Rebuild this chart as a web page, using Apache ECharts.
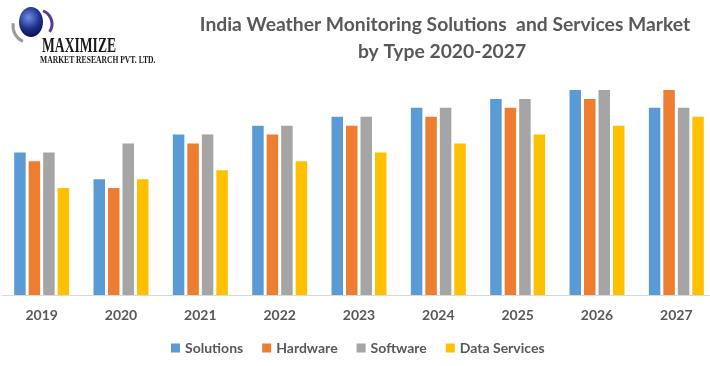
<!DOCTYPE html>
<html>
<head>
<meta charset="utf-8">
<script src="https://cdn.jsdelivr.net/npm/echarts@6/dist/echarts.min.js"></script>
<style>
html,body{margin:0;padding:0;background:#fff;overflow:hidden;width:710px;height:366px;}
#chart{width:720px;height:366px;}
</style>
</head>
<body>
<div id="chart"></div>
<script>
const categories = ['2019','2020','2021','2022','2023','2024','2025','2026','2027'];
const solutions    = [16, 13, 18, 19, 20, 21, 22, 23, 21];
const hardware     = [15, 12, 17, 18, 19, 20, 21, 22, 23];
const software     = [16, 17, 18, 19, 20, 21, 22, 23, 21];
const dataServices = [12, 13, 14, 15, 16, 17, 18, 19, 20];
const seriesNames  = ['Solutions', 'Hardware', 'Software', 'Data Services'];
const titleLines   = ['India Weather Monitoring Solutions  and Services Market', 'by Type 2020-2027'];

const colors = ['#5B9BD5', '#ED7D31', '#A5A5A5', '#FFC000'];
const values = [solutions, hardware, software, dataServices];

const chart = echarts.init(document.getElementById('chart'), null, {renderer: 'canvas'});
chart.setOption({
  animation: false,
  backgroundColor: '#ffffff',
  color: colors,
  grid: {left: 2, width: 714, top: 90, bottom: 71, containLabel: false},
  legend: {
    data: seriesNames,
    top: 336,
    left: 166,
    icon: 'rect',
    itemWidth: 9,
    itemHeight: 9,
    itemGap: 19,
    textStyle: {fontFamily: 'Lato', fontWeight: 'bold', fontSize: 14, color: '#595959'}
  },
  xAxis: {
    type: 'category',
    data: categories,
    axisLine: {lineStyle: {color: '#D9D9D9', width: 1}},
    axisTick: {show: false},
    axisLabel: {margin: 13, fontFamily: 'Lato', fontWeight: 'bold', fontSize: 14, color: '#595959'}
  },
  yAxis: {
    type: 'value', min: 0, max: 23,
    show: false,
    splitLine: {show: false}
  },
  series: seriesNames.map((n, i) => ({
    name: n,
    type: 'bar',
    data: values[i],
    barWidth: 11.5,
    barGap: '26%',
    itemStyle: {color: colors[i]}
  })),
  graphic: [
    {type: 'text', x: 445, y: 25, style: {text: titleLines[0], textAlign: 'center', textVerticalAlign: 'middle', font: 'bold 19.3px Lato', fill: '#595959'}},
    {type: 'text', x: 442, y: 52, style: {text: titleLines[1], textAlign: 'center', textVerticalAlign: 'middle', font: 'bold 19.3px Lato', fill: '#595959'}},
    // logo globe
    {type: 'arc', shape: {cx: 30, cy: 26, r: 17, startAngle: 2.0, endAngle: 3.3}, style: {stroke: '#9a9aa8', lineWidth: 3, fill: null}},
    {type: 'ellipse', shape: {cx: 31, cy: 22, rx: 12, ry: 15},
      style: {fill: new echarts.graphic.RadialGradient(0.4, 0.35, 0.8, [{offset: 0, color: '#6f8fe0'}, {offset: 0.6, color: '#1e2f8a'}, {offset: 1, color: '#0b1450'}])}},
    {type: 'arc', shape: {cx: 38, cy: 24, r: 14, startAngle: -1.2, endAngle: 0.6}, style: {stroke: '#5a3e8c', lineWidth: 3, fill: null}},
    {type: 'text', x: 42, y: 47, scaleX: 0.68, style: {text: 'MAXIMIZE', textVerticalAlign: 'middle', font: 'bold 20px "Liberation Serif"', fill: '#1a1a1a'}},
    {type: 'text', x: 40, y: 60, scaleX: 0.76, style: {text: 'MARKET RESEARCH PVT. LTD.', textVerticalAlign: 'middle', font: 'bold 10px "Liberation Serif"', fill: '#1a1a1a'}}
  ]
});
</script>
</body>
</html>
